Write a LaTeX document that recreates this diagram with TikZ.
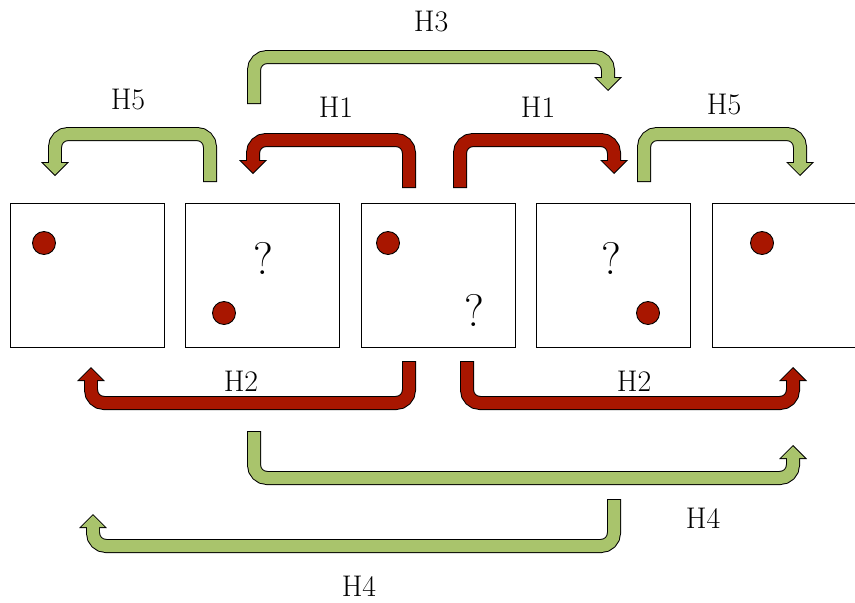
\documentclass[tikz,border=0pt]{standalone}
\usepackage{tikz}
\usetikzlibrary{
    arrows.meta,
    positioning
}
\usepackage{xcolor}
\definecolor{hopred}{RGB}{168,22,0}
\definecolor{hopgreen}{RGB}{169,196,108}
\tikzstyle{field} = [
    rectangle,
    draw=black,
    line width=0.5pt,
    minimum width=3.08cm,
    minimum height=2.88cm,
    inner sep=0pt,
    outer sep=0pt
]
\tikzstyle{dot} = [
    circle,
    draw=black,
    line width=0.5pt,
    fill=hopred,
    minimum size=0.46cm,
    inner sep=0pt
]
\tikzstyle{unknown} = [
    font=\fontsize{26}{30}\selectfont,
    inner sep=0pt
]
\tikzstyle{hop} = [
    rounded corners=0.26cm,
    line width=0.24cm,
    -{Triangle[width=0.464cm, length=0.232cm, line width=0pt]},
    shorten >=0.028cm,
    preaction={
        draw=black,
        line width=0.28cm,
        -{Triangle[width=0.56cm, length=0.28cm, line width=0pt]},
        shorten >=0pt,
        shorten <=-0.02cm
    }
]
\tikzstyle{redhop} = [hop, draw=hopred]
\tikzstyle{greenhop} = [hop, draw=hopgreen]
\tikzstyle{label} = [font=\fontsize{17}{20}\selectfont]

\begin{document}
\begin{tikzpicture}[x=0.02cm, y=-0.02cm]
    \useasboundingbox (0,0) rectangle (855,602);

    % the five fields
    \node[field] (f1) at (87,275) {};
    \node[field, right=0.432cm of f1] (f2) {};
    \node[field, right=0.432cm of f2] (f3) {};
    \node[field, right=0.432cm of f3] (f4) {};
    \node[field, right=0.432cm of f4] (f5) {};

    % balls and question marks
    \node[dot] (d1) at (44,243) {};
    \node[dot] (d2) at (224,313) {};
    \node[unknown] (q2) at (263,258) {?};
    \node[dot] (d3) at (388,243) {};
    \node[unknown] (q3) at (474,310) {?};
    \node[unknown] (q4) at (611,258) {?};
    \node[dot] (d4) at (648,313) {};
    \node[dot] (d5) at (762,243) {};

    % H3
    \draw[greenhop] (254,103) -- (254,57) -- (608,57) -- (608,91);
    \node[label] (h3) at (431,22) {H3};

    % H1
    \draw[redhop] (409,187) -- (409,140) -- (253,140) -- (253,174);
    \draw[redhop] (460,187) -- (460,140) -- (614,140) -- (614,174);
    \node[label] (h1l) at (336,107) {H1};
    \node[label] (h1r) at (538,107) {H1};

    % H5
    \draw[greenhop] (210,181) -- (210,134) -- (55,134) -- (55,176);
    \draw[greenhop] (644,181) -- (644,134) -- (800,134) -- (800,176);
    \node[label] (h5l) at (128,100) {H5};
    \node[label] (h5r) at (724,105) {H5};

    % H2
    \draw[redhop] (409,362) -- (409,403) -- (91,403) -- (91,367);
    \draw[redhop] (467,362) -- (467,403) -- (793,403) -- (793,367);
    \node[label] (h2l) at (241,381) {H2};
    \node[label] (h2r) at (634,381) {H2};

    % H4
    \draw[greenhop] (254,432) -- (254,478) -- (793,478) -- (793,445);
    \draw[greenhop] (614,500) -- (614,546) -- (93,546) -- (93,514);
    \node[label] (h4r) at (703,518) {H4};
    \node[label] (h4l) at (359,586) {H4};
\end{tikzpicture}
\end{document}
